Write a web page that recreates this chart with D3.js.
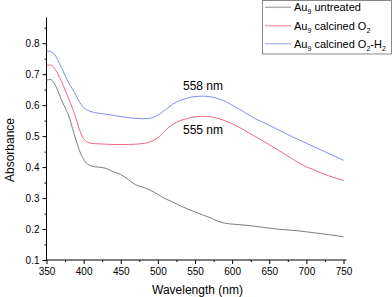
<!DOCTYPE html>
<html>
<head>
<meta charset="utf-8">
<script src="https://cdn.jsdelivr.net/npm/d3@7"></script>
<style>
  body { margin: 0; background: #fff; }
  svg { display: block; font-family: "Liberation Sans", Arial, sans-serif; }
</style>
</head>
<body>
<svg id="chart" width="392" height="297"></svg>
<script>
// longueurs d'onde (nm)
let wavelength = [350, 355, 360, 365, 370, 375, 380, 385, 390, 395, 400, 405, 410, 420, 430, 440, 450, 460, 470, 480,
  490, 500, 510, 520, 530, 540, 550, 560, 570, 580, 590, 600, 610, 620, 630, 640, 650, 660, 670, 680,
  690, 700, 710, 720, 730, 740, 750];

let untreated = [0.680, 0.683, 0.672, 0.648, 0.618, 0.592, 0.565, 0.525, 0.485, 0.450, 0.425, 0.410, 0.404, 0.400, 0.396, 0.385, 0.376, 0.360, 0.343, 0.335,
  0.325, 0.312, 0.298, 0.287, 0.275, 0.265, 0.255, 0.246, 0.237, 0.226, 0.219, 0.216, 0.214, 0.212, 0.209, 0.206, 0.203, 0.200, 0.198, 0.196,
  0.194, 0.191, 0.188, 0.185, 0.182, 0.179, 0.175];

let calcinedO2 = [0.728, 0.730, 0.721, 0.702, 0.677, 0.649, 0.620, 0.590, 0.555, 0.517, 0.492, 0.481, 0.477, 0.475, 0.474, 0.473, 0.473, 0.473, 0.474, 0.476,
  0.482, 0.495, 0.518, 0.538, 0.550, 0.557, 0.562, 0.564, 0.563, 0.558, 0.550, 0.540, 0.528, 0.514, 0.500, 0.487, 0.472, 0.458, 0.443, 0.428,
  0.413, 0.401, 0.391, 0.381, 0.372, 0.364, 0.357];

let calcinedO2H2 = [0.775, 0.773, 0.766, 0.747, 0.722, 0.696, 0.671, 0.652, 0.630, 0.608, 0.592, 0.584, 0.579, 0.574, 0.571, 0.567, 0.563, 0.560, 0.557, 0.556,
  0.558, 0.568, 0.585, 0.603, 0.615, 0.623, 0.628, 0.629, 0.627, 0.622, 0.613, 0.600, 0.587, 0.572, 0.558, 0.546, 0.535, 0.523, 0.511, 0.499,
  0.488, 0.477, 0.466, 0.455, 0.444, 0.433, 0.422];

let xTicks = [350, 400, 450, 500, 550, 600, 650, 700, 750];
let yTicks = [0.1, 0.2, 0.3, 0.4, 0.5, 0.6, 0.7, 0.8];

let series = [
  { nom: "untreated", valeurs: untreated, couleur: "#7c7c7c" },
  { nom: "O2", valeurs: calcinedO2, couleur: "#f0657f" },
  { nom: "O2-H2", valeurs: calcinedO2H2, couleur: "#7e90f0" }
];

let svg = d3.select("#chart");

let x = d3.scaleLinear().domain([350, 750]).range([46.5, 343.5]);
let y = d3.scaleLinear().domain([0.1, 0.883]).range([260, 17.5]);

// axe des abscisses
let axeX = svg.append("g")
  .attr("transform", `translate(0,${y(0.1)})`);
axeX.call(d3.axisBottom(x).tickValues(d3.range(375, 750, 50)).tickSize(2).tickFormat(""));
axeX.call(g => g.select(".domain").remove());
axeX.append("g").call(d3.axisBottom(x).tickValues(xTicks).tickSize(4).tickPadding(4).tickFormat(d3.format("d")))
  .call(g => g.select(".domain").attr("d", `M${x(350)},0H${x(750) + 3}`));

// axe des ordonnées
let axeY = svg.append("g")
  .attr("transform", `translate(${x(350)},0)`);
axeY.call(d3.axisLeft(y).tickValues(d3.range(0.15, 0.9, 0.1)).tickSize(2).tickFormat(""));
axeY.call(g => g.select(".domain").remove());
axeY.append("g").call(d3.axisLeft(y).tickValues(yTicks).tickSize(4).tickPadding(3).tickFormat(d3.format(".1f")))
  .call(g => g.select(".domain").attr("d", `M0,${y(0.1)}V${y(0.883)}`));

svg.selectAll(".tick text").attr("font-size", "10px").attr("fill", "#000")
  .attr("font-family", "'Liberation Sans', Arial, sans-serif");
svg.selectAll(".tick line, .domain").attr("stroke", "#000");

// courbes
let ligne = d3.line()
  .x((d, i) => x(wavelength[i]))
  .y(d => y(d))
  .curve(d3.curveMonotoneX);

svg.selectAll(".courbe")
  .data(series)
  .join("path")
  .attr("class", "courbe")
  .attr("d", d => ligne(d.valeurs))
  .attr("fill", "none")
  .attr("stroke", d => d.couleur)
  .attr("stroke-width", 1);

// annotations des pics
svg.append("text").attr("x", 183).attr("y", 90).attr("font-size", "12px").text("558 nm");
svg.append("text").attr("x", 183).attr("y", 133.5).attr("font-size", "12px").text("555 nm");

// titres des axes
svg.append("text")
  .attr("x", 197.5).attr("y", 293.5)
  .attr("text-anchor", "middle")
  .attr("font-size", "12px")
  .text("Wavelength (nm)");

svg.append("text")
  .attr("transform", "translate(14,150) rotate(-90)")
  .attr("text-anchor", "middle")
  .attr("font-size", "12px")
  .text("Absorbance");

// légende
let legende = svg.append("g");
legende.append("rect")
  .attr("x", 262.5).attr("y", 0.5)
  .attr("width", 129).attr("height", 53.5)
  .attr("fill", "#fff")
  .attr("stroke", "#888");

let lignesLegende = [7.3, 25.7, 43.7];
let items = legende.selectAll(".item")
  .data(series)
  .join("g")
  .attr("class", "item")
  .attr("transform", (d, i) => `translate(0,${lignesLegende[i]})`);

items.append("line")
  .attr("x1", 265).attr("x2", 291)
  .attr("stroke", d => d.couleur)
  .attr("stroke-opacity", 0.6)
  .attr("stroke-width", 1.5);

let textes = items.append("text")
  .attr("x", 294).attr("y", 4)
  .attr("font-size", "11px");

textes.each(function (d) {
  let t = d3.select(this);
  t.append("tspan").text("Au");
  t.append("tspan").attr("font-size", "7px").attr("dy", 3).text("9");
  if (d.nom == "untreated") {
    t.append("tspan").attr("dy", -3).text(" untreated");
  } else if (d.nom == "O2") {
    t.append("tspan").attr("dy", -3).text(" calcined O");
    t.append("tspan").attr("font-size", "7px").attr("dy", 3).text("2");
  } else {
    t.append("tspan").attr("dy", -3).text(" calcined O");
    t.append("tspan").attr("font-size", "7px").attr("dy", 3).text("2");
    t.append("tspan").attr("dy", -3).text("-H");
    t.append("tspan").attr("font-size", "7px").attr("dy", 3).text("2");
  }
});
</script>
</body>
</html>
